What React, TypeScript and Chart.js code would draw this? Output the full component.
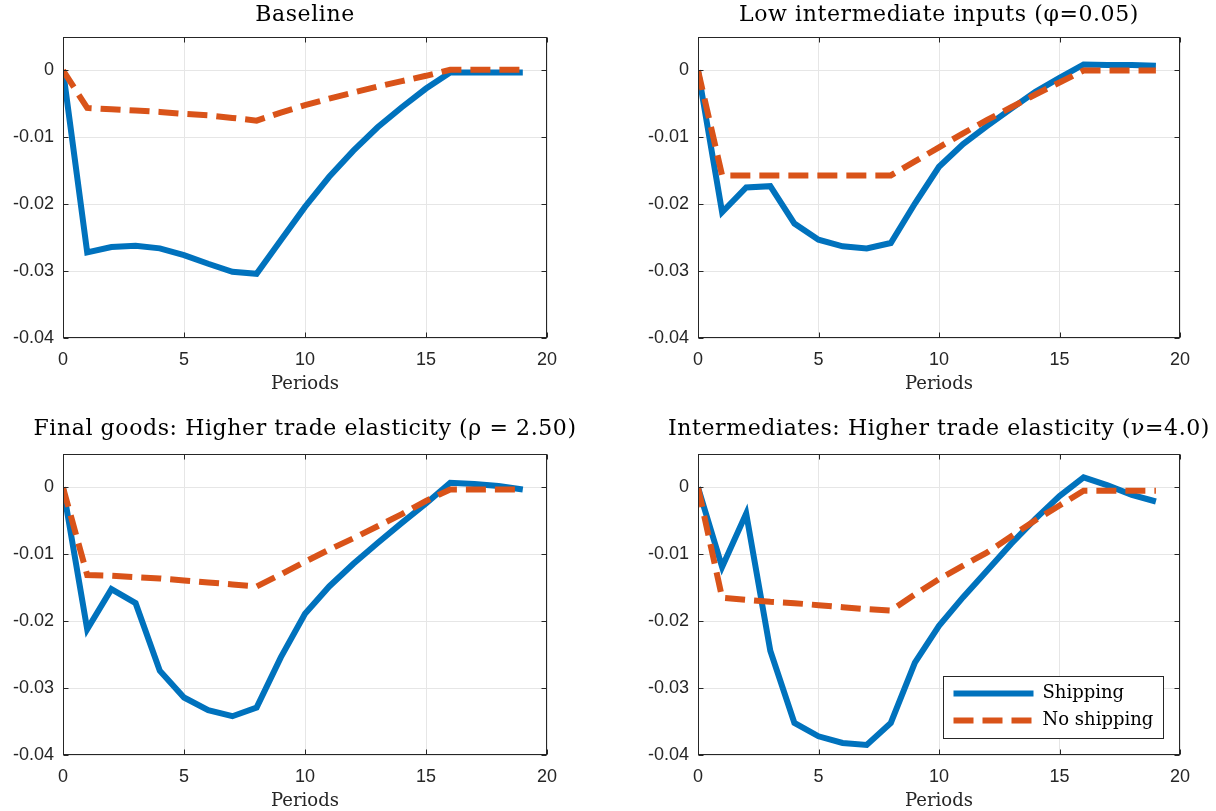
import React, { useEffect, useRef } from "react";
import { Chart, registerables } from "chart.js";
Chart.register(...registerables);

// ---------- data ----------
const periods = [0, 1, 2, 3, 4, 5, 6, 7, 8, 9, 10, 11, 12, 13, 14, 15, 16, 17, 18, 19];

const baselineShipping = [0, -0.0272, -0.0264, -0.0262, -0.0266, -0.0276, -0.0289, -0.0301, -0.0304, -0.0254, -0.0204, -0.0159, -0.012, -0.0085, -0.0055, -0.0027, -0.0003, -0.0003, -0.0003, -0.0003];
const baselineNoShipping = [0, -0.0056, -0.0058, -0.006, -0.0062, -0.0065, -0.0067, -0.0071, -0.0075, -0.0063, -0.0052, -0.0042, -0.0033, -0.0024, -0.0016, -0.0008, 0.0001, 0.0001, 0.0001, 0.0001];

const lowPhiShipping = [0, -0.0212, -0.0175, -0.0173, -0.0229, -0.0253, -0.0263, -0.0266, -0.0258, -0.0199, -0.0144, -0.011, -0.0083, -0.0057, -0.0032, -0.0011, 0.0009, 0.0008, 0.0008, 0.0007];
const lowPhiNoShipping = [0, -0.0157, -0.0157, -0.0157, -0.0157, -0.0157, -0.0157, -0.0157, -0.0157, -0.0136, -0.0115, -0.0094, -0.0074, -0.0055, -0.0036, -0.0018, 0, 0, 0, 0];

const finalShipping = [0, -0.0212, -0.0152, -0.0173, -0.0274, -0.0314, -0.0333, -0.0342, -0.0329, -0.0254, -0.0189, -0.0148, -0.0114, -0.0083, -0.0053, -0.0024, 0.0007, 0.0005, 0.0002, -0.0003];
const finalNoShipping = [0, -0.0131, -0.0132, -0.0134, -0.0136, -0.0139, -0.0142, -0.0145, -0.0148, -0.013, -0.0111, -0.0093, -0.0076, -0.0058, -0.004, -0.002, -0.0003, -0.0003, -0.0003, -0.0003];

const interShipping = [0, -0.0119, -0.0039, -0.0244, -0.0352, -0.0372, -0.0382, -0.0385, -0.0352, -0.0262, -0.0207, -0.0164, -0.0124, -0.0084, -0.0047, -0.0013, 0.0015, 0.0003, -0.0011, -0.0021];
const interNoShipping = [0, -0.0165, -0.0168, -0.0171, -0.0173, -0.0176, -0.0179, -0.0182, -0.0184, -0.016, -0.0137, -0.0117, -0.0097, -0.0073, -0.0049, -0.0027, -0.0005, -0.0005, -0.0005, -0.0005];

const xTicks = [0, 5, 10, 15, 20];
const yTicks = [-0.04, -0.03, -0.02, -0.01, 0];
const yTickLabels = ["-0.04", "-0.03", "-0.02", "-0.01", "0"];
const seriesLabels = ["Shipping", "No shipping"];
const panelTitles = [
  "Baseline",
  "Low intermediate inputs (\u03C6=0.05)",
  "Final goods: Higher trade elasticity (\u03C1 = 2.50)",
  "Intermediates: Higher trade elasticity (\u03BD=4.0)",
];
const xAxisLabel = "Periods";

// ---------- style ----------
const BLUE = "#0072BD";
const RED = "#D95319";
const AXIS = "#262626";
const GRID = "#e6e6e6";
const SERIF = '"DejaVu Serif", serif';
const SANS = '"Liberation Sans", Arial, sans-serif';

const decorPlugin = {
  id: "decor",
  afterDraw(chart: any, _args: any, opts: any) {
    const ctx = chart.ctx as CanvasRenderingContext2D;
    const a = chart.chartArea;
    const xs = chart.scales.x;
    const ys = chart.scales.y;
    ctx.save();
    // axes box
    ctx.strokeStyle = AXIS;
    ctx.lineWidth = 1;
    const L = Math.round(a.left) + 0.5;
    const R = Math.round(a.right) - 0.5;
    const T = Math.round(a.top) + 0.5;
    const B = Math.round(a.bottom) - 0.5;
    ctx.strokeRect(L, T, R - L, B - T);
    // inward ticks
    const tl = 5;
    ctx.beginPath();
    xTicks.forEach((v) => {
      const px = Math.round(xs.getPixelForValue(v)) + 0.5;
      ctx.moveTo(px, B);
      ctx.lineTo(px, B - tl);
      ctx.moveTo(px, T);
      ctx.lineTo(px, T + tl);
    });
    yTicks.forEach((v) => {
      const py = Math.round(ys.getPixelForValue(v)) + 0.5;
      ctx.moveTo(L, py);
      ctx.lineTo(L + tl, py);
      ctx.moveTo(R, py);
      ctx.lineTo(R - tl, py);
    });
    ctx.stroke();

    const cx = (a.left + a.right) / 2;
    // title
    ctx.fillStyle = "#000";
    ctx.textAlign = "center";
    ctx.textBaseline = "alphabetic";
    ctx.font = `22px ${SERIF}`;
    (ctx as any).letterSpacing = "0.6px";
    ctx.fillText(opts.title, cx, opts.titleY);
    (ctx as any).letterSpacing = "0px";
    // x label
    ctx.fillStyle = AXIS;
    ctx.font = `18px ${SERIF}`;
    ctx.fillText(xAxisLabel, cx, a.bottom + 51);

    // legend
    if (opts.legend) {
      const w = 220;
      const h = 62;
      const bx = Math.round(a.right - 17 - w) + 0.5;
      const by = Math.round(a.bottom - 17 - h) + 0.5;
      ctx.fillStyle = "#fff";
      ctx.fillRect(bx, by, w, h);
      ctx.strokeStyle = AXIS;
      ctx.lineWidth = 1;
      ctx.strokeRect(bx, by, w, h);
      const dsets = chart.data.datasets;
      const rows = [dsets.find((d: any) => d.label === seriesLabels[0]), dsets.find((d: any) => d.label === seriesLabels[1])];
      rows.forEach((d: any, i: number) => {
        const y = by + 17 + i * 27;
        ctx.beginPath();
        ctx.strokeStyle = d.borderColor;
        ctx.lineWidth = d.borderWidth;
        ctx.lineCap = "butt";
        ctx.setLineDash(d.borderDash || []);
        ctx.moveTo(bx + 10, y);
        ctx.lineTo(bx + 90, y);
        ctx.stroke();
        ctx.setLineDash([]);
        ctx.fillStyle = "#000";
        ctx.textAlign = "left";
        ctx.textBaseline = "middle";
        ctx.font = `18px ${SERIF}`;
        ctx.fillText(d.label, bx + 99, y);
      });
    }
    ctx.restore();
  },
};

type PanelProps = {
  left: number;
  top: number;
  width: number;
  height: number;
  area: { l: number; t: number; r: number; b: number };
  title: string;
  titleY: number;
  shipping: number[];
  noShipping: number[];
  legend?: boolean;
};

function Panel(p: PanelProps) {
  const ref = useRef<HTMLCanvasElement | null>(null);
  useEffect(() => {
    if (!ref.current) return;
    const mk = (vals: number[]) => periods.map((t, i) => ({ x: t, y: vals[i] }));
    const chart = new Chart(ref.current, {
      type: "line",
      data: {
        datasets: [
          {
            label: seriesLabels[0],
            data: mk(p.shipping),
            borderColor: BLUE,
            backgroundColor: BLUE,
            borderWidth: 6,
            pointRadius: 0,
            tension: 0,
            borderCapStyle: "butt",
            borderJoinStyle: "miter",
            order: 1,
          },
          {
            label: seriesLabels[1],
            data: mk(p.noShipping),
            borderColor: RED,
            backgroundColor: RED,
            borderWidth: 6,
            borderDash: [20, 9],
            pointRadius: 0,
            tension: 0,
            borderCapStyle: "butt",
            borderJoinStyle: "miter",
            order: 0,
          },
        ],
      },
      options: {
        animation: false,
        responsive: false,
        devicePixelRatio: 1,
        layout: {
          padding: { top: p.area.t, right: p.width - p.area.r, bottom: 0, left: 0 },
        },
        plugins: {
          legend: { display: false },
          tooltip: { enabled: false },
          title: { display: false },
          decor: { title: p.title, titleY: p.titleY, legend: !!p.legend },
        } as any,
        scales: {
          x: {
            type: "linear",
            min: 0,
            max: 20,
            afterBuildTicks: (s: any) => {
              s.ticks = xTicks.map((v) => ({ value: v }));
            },
            afterFit: (s: any) => {
              s.height = p.height - p.area.b;
            },
            grid: { color: GRID, lineWidth: 1, drawTicks: false },
            border: { display: false },
            ticks: {
              padding: 11,
              color: AXIS,
              font: { family: SANS, size: 18 },
              maxRotation: 0,
              callback: (v: any) => String(v),
            },
          },
          y: {
            type: "linear",
            min: -0.04,
            max: 0.005,
            afterBuildTicks: (s: any) => {
              s.ticks = yTicks.map((v) => ({ value: v }));
            },
            afterFit: (s: any) => {
              s.width = p.area.l;
            },
            grid: { color: GRID, lineWidth: 1, drawTicks: false },
            border: { display: false },
            ticks: {
              padding: 9,
              color: AXIS,
              font: { family: SANS, size: 18 },
              callback: (v: any) => {
                const i = yTicks.findIndex((t) => Math.abs(t - v) < 1e-9);
                return i >= 0 ? yTickLabels[i] : "";
              },
            },
          },
        },
      },
      plugins: [decorPlugin],
    } as any);
    return () => chart.destroy();
  }, []);
  return (
    <div style={{ position: "absolute", left: p.left, top: p.top, width: p.width, height: p.height }}>
      <canvas ref={ref} width={p.width} height={p.height} style={{ width: p.width, height: p.height, display: "block" }} />
    </div>
  );
}

export default function App() {
  return (
    <div style={{ position: "fixed", left: 0, top: 0, width: 1216, height: 811, background: "#fff" }}>
      <Panel left={0} top={0} width={608} height={405} area={{ l: 63, t: 37, r: 547, b: 338 }} title={panelTitles[0]} titleY={21} shipping={baselineShipping} noShipping={baselineNoShipping} />
      <Panel left={608} top={0} width={608} height={405} area={{ l: 90, t: 37, r: 572, b: 338 }} title={panelTitles[1]} titleY={21} shipping={lowPhiShipping} noShipping={lowPhiNoShipping} />
      <Panel left={0} top={405} width={608} height={406} area={{ l: 63, t: 49, r: 547, b: 350 }} title={panelTitles[2]} titleY={30} shipping={finalShipping} noShipping={finalNoShipping} />
      <Panel left={608} top={405} width={608} height={406} area={{ l: 90, t: 49, r: 572, b: 350 }} title={panelTitles[3]} titleY={30} shipping={interShipping} noShipping={interNoShipping} legend />
    </div>
  );
}
